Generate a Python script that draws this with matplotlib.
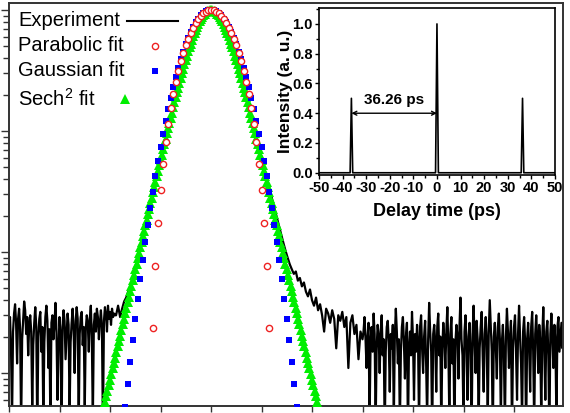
import numpy as np
import matplotlib
matplotlib.use("Agg")
import matplotlib.pyplot as plt
from matplotlib.ticker import MultipleLocator, LogLocator, NullFormatter

plt.rcParams['font.family'] = ['Liberation Sans', 'DejaVu Sans']
plt.rcParams['mathtext.fontset'] = 'custom'
plt.rcParams['mathtext.rm'] = 'Liberation Sans'
plt.rcParams['axes.unicode_minus'] = False

########################
# Data #
########################

# Measured autocorrelation trace in three pieces: (start ps, step ps, values)
# left noise floor, 0.01 ps apart from -2.00 ps
LEFT_X0, LEFT_STEP = -2.0, 0.01
exp_left_noise = [0.0024, 0.0029, 0.0016, 0.0004, 0.0022, 0.0031, 0.0037, 0.0026, 0.0012, 0.0028,
                  0.0034, 0.0023, 0.00035, 0.0019, 0.0027, 0.0039, 0.0033, 0.0021, 0.0029, 0.0014,
                  0.0025, 0.0030, 0.0022, 0.0005, 0.0017, 0.0026, 0.0035, 0.0024, 0.0003, 0.0020,
                  0.0028, 0.0032, 0.0015, 0.0024, 0.0004, 0.0018, 0.0029, 0.0036, 0.0027, 0.0011,
                  0.0023, 0.00035, 0.0026, 0.0030, 0.0019, 0.0025, 0.0038, 0.0022, 0.0006, 0.0016,
                  0.0029, 0.0021, 0.0003, 0.0024, 0.0033, 0.0027, 0.0013, 0.0020, 0.0031, 0.0025,
                  0.00045, 0.0018, 0.0026, 0.0034, 0.0022, 0.0010, 0.0027, 0.0035, 0.0028, 0.00035,
                  0.0021, 0.0029, 0.0032, 0.0017, 0.0024, 0.0005, 0.0023, 0.0030, 0.0026, 0.0015,
                  0.0028, 0.0036, 0.0020, 0.0004, 0.0025, 0.0031, 0.0022, 0.0034, 0.0029, 0.0019,
                  0.0026, 0.0033, 0.0024, 0.00035, 0.0027, 0.0035, 0.0030, 0.0022, 0.0036, 0.0028,
                  0.0032, 0.0025, 0.0034, 0.0029, 0.0031, 0.0030]
# pulse and right shoulder, 0.02 ps apart from -0.94 ps
PULSE_X0, PULSE_STEP = -0.94, 0.02
exp_pulse = [0.0030, 0.0036, 0.0029, 0.0034, 0.0039, 0.0042, 0.0047, 0.0052, 0.0060, 0.0069,
             0.0080, 0.0094, 0.0110, 0.01298, 0.01534, 0.01813, 0.02142, 0.02529, 0.02986, 0.03523,
             0.04156, 0.04899, 0.0577, 0.0679, 0.0799, 0.0938, 0.1100, 0.1289, 0.1507, 0.1758,
             0.2045, 0.2373, 0.2744, 0.3161, 0.3625, 0.4135, 0.4690, 0.5284, 0.5908, 0.6551,
             0.7197, 0.7827, 0.8418, 0.8947, 0.9389, 0.9722, 0.9929, 1.0,
             0.9929, 0.9722, 0.9389, 0.8947, 0.8418, 0.7827, 0.7197, 0.6551, 0.5908, 0.5284,
             0.4690, 0.4135, 0.3625, 0.3161, 0.2744, 0.2373, 0.2045, 0.1758, 0.1507, 0.1289,
             0.1110, 0.0955, 0.0820, 0.0705, 0.0605, 0.0520, 0.0447, 0.0385, 0.0330, 0.0284,
             0.0244, 0.0210, 0.0180, 0.0155, 0.0134, 0.0116, 0.0101, 0.0089, 0.0079, 0.0072,
             0.0066, 0.0069, 0.0058, 0.0061, 0.0052, 0.0056, 0.0047, 0.0043, 0.0049, 0.0040,
             0.0036, 0.0042, 0.0033, 0.0037, 0.0030, 0.0022, 0.0034, 0.0031, 0.0026, 0.0033,
             0.0028, 0.0016, 0.0030, 0.0027, 0.0032, 0.0024, 0.0029, 0.0011, 0.0026, 0.0030,
             0.0021, 0.0025, 0.0013, 0.0022, 0.0019]
# right noise floor, 0.01 ps apart from 1.51 ps
RIGHT_X0, RIGHT_STEP = 1.51, 0.01
exp_right_noise = [0.0022, 0.0029, 0.0019, 0.0011, 0.0020, 0.0026, 0.0004, 0.0018, 0.0024, 0.0015,
                   0.0031, 0.0021, 0.00035, 0.0016, 0.0025, 0.0020, 0.0010, 0.0022, 0.0030, 0.0014,
                   0.0019, 0.0003, 0.0015, 0.0024, 0.0027, 0.0018, 0.0007, 0.0021, 0.0016, 0.0025,
                   0.0004, 0.0020, 0.0034, 0.0022, 0.0012, 0.0019, 0.00035, 0.0015, 0.0024, 0.0029,
                   0.0018, 0.0009, 0.0020, 0.0026, 0.0003, 0.0016, 0.0022, 0.0014, 0.0032, 0.0019,
                   0.0006, 0.0021, 0.0015, 0.0025, 0.0018, 0.00035, 0.0024, 0.0030, 0.0016, 0.0010,
                   0.0020, 0.0027, 0.0012, 0.0004, 0.0019, 0.0038, 0.0022, 0.0015, 0.0003, 0.0021,
                   0.0025, 0.0018, 0.0007, 0.0024, 0.0031, 0.0014, 0.0020, 0.00035, 0.0016, 0.0026,
                   0.0019, 0.0011, 0.0022, 0.0035, 0.0016, 0.0004, 0.0021, 0.0029, 0.0012, 0.0019,
                   0.0003, 0.0018, 0.0025, 0.0020, 0.0009, 0.0024, 0.0042, 0.0019, 0.0014, 0.0004,
                   0.0022, 0.0030, 0.0016, 0.0006, 0.0020, 0.0026, 0.0015, 0.0003, 0.0021, 0.0036,
                   0.0018, 0.0010, 0.0027, 0.0019, 0.00035, 0.0016, 0.0024, 0.0032, 0.0014, 0.0007,
                   0.0021, 0.0029, 0.0018, 0.0004, 0.0022, 0.0040, 0.0025, 0.0015, 0.0003, 0.0020,
                   0.0026, 0.0016, 0.0009, 0.0024, 0.0031, 0.0019, 0.0004, 0.0018, 0.0025, 0.0014,
                   0.00035, 0.0020, 0.0034, 0.0022, 0.0011, 0.0019, 0.0027, 0.0003, 0.0016, 0.0024,
                   0.0030, 0.0015, 0.0006, 0.0021, 0.0036, 0.0020, 0.0012, 0.0004, 0.0022, 0.0029,
                   0.0018, 0.0003, 0.0019, 0.0026, 0.0016, 0.0007, 0.0024, 0.0032, 0.0015, 0.00035,
                   0.0021, 0.0030, 0.0019, 0.0010, 0.0025, 0.0018, 0.0004, 0.0020, 0.0035, 0.0016,
                   0.0006, 0.0022, 0.0027, 0.0014, 0.0003, 0.0021, 0.0031, 0.0019, 0.0011, 0.0025,
                   0.0018, 0.0004, 0.0024, 0.0029, 0.0015, 0.0020, 0.0026, 0.0016, 0.0022]

# Sech^2 fit, one half from 0 ps outwards, 0.0125 ps apart
SECH_STEP = 0.0125
sech_half = [1.0, 0.99724, 0.98901, 0.97549, 0.95697, 0.93385, 0.90659, 0.87572, 0.84181, 0.80545,
             0.76723, 0.72773, 0.68749, 0.64701, 0.60673, 0.56705, 0.52830, 0.49077, 0.45465, 0.42015,
             0.38735, 0.35636, 0.32719, 0.29985, 0.27435, 0.25064, 0.22867, 0.20834, 0.18960, 0.17240,
             0.15659, 0.14211, 0.12884, 0.11676, 0.10573, 0.09569, 0.08656, 0.07826, 0.07070, 0.06387,
             0.05767, 0.05208, 0.04698, 0.04240, 0.03825, 0.03447, 0.03111, 0.02804, 0.02528, 0.02278,
             0.02051, 0.01847, 0.01666, 0.01501, 0.01351, 0.01217, 0.01098, 0.00987, 0.00888, 0.00801,
             0.00721, 0.00650, 0.00582, 0.00527, 0.00475, 0.00427, 0.00384, 0.00345, 0.00311, 0.00280,
             0.00252, 0.00227, 0.00204, 0.00184, 0.00166, 0.00149, 0.00134, 0.00121, 0.00109, 0.000979,
             0.000881, 0.000793, 0.000714, 0.000643, 0.000578, 0.000521, 0.000469]

# Gaussian and parabolic fits, one half each, 0.025 ps apart
FIT_STEP = 0.025
gauss_half = [1.0, 0.99349, 0.97420, 0.94287, 0.90083, 0.84952, 0.79034, 0.72589, 0.65812, 0.58907,
              0.52024, 0.45349, 0.39034, 0.33148, 0.27785, 0.22985, 0.18772, 0.15133, 0.12042, 0.09455,
              0.07329, 0.05606, 0.04232, 0.03154, 0.02320, 0.01684, 0.01207, 0.008538, 0.005962, 0.004108,
              0.002793, 0.001875, 0.001242, 0.000812, 0.000524, 0.000334]
parab_half = [1.0, 0.99232, 0.97056, 0.93662, 0.89238, 0.83968, 0.78032, 0.71604, 0.64849, 0.57923,
              0.50976, 0.44143, 0.37548, 0.31302, 0.25501, 0.20224, 0.15534, 0.11477, 0.08075, 0.05333,
              0.03232, 0.01731, 0.007628, 0.002358, 0.000307]

# Inset: pulse train
inset_delay = [-50, -36.8, -36.26, -35.7, -0.6, 0.0, 0.6, 35.7, 36.26, 36.8, 50]
inset_intensity = [0, 0, 0.5, 0, 0, 1.0, 0, 0, 0.5, 0, 0]
PULSE_SPACING = 36.26
spacing_label = "36.26 ps"

legend_labels = ["Experiment", "Parabolic fit", "Gaussian fit", "Sech$^{2}$ fit"]


def mirrored(half, step):
    y = half[:0:-1] + half
    n = len(half) - 1
    x = step * np.arange(-n, n + 1)
    return x, np.array(y)


def segment_x(x0, step, values):
    return x0 + step * np.arange(len(values))


def main():
    exp_x = np.concatenate([segment_x(LEFT_X0, LEFT_STEP, exp_left_noise),
                            segment_x(PULSE_X0, PULSE_STEP, exp_pulse),
                            segment_x(RIGHT_X0, RIGHT_STEP, exp_right_noise)])
    exp_y = np.array(exp_left_noise + exp_pulse + exp_right_noise)
    sech_x, sech_y = mirrored(sech_half, SECH_STEP)
    gauss_x, gauss_y = mirrored(gauss_half, FIT_STEP)
    parab_x, parab_y = mirrored(parab_half, FIT_STEP)

    fig = plt.figure(figsize=(5.7, 4.13), dpi=100)
    ax = fig.add_axes([0.0158, 0.0170, 0.9719, 0.9758])

    ax.plot(exp_x, exp_y, color='black', lw=1.6, zorder=2)
    ax.plot(sech_x, sech_y, ls='none', marker='^', ms=7, color='#00ee00',
            markeredgewidth=0, zorder=3)
    ax.plot(gauss_x, gauss_y, ls='none', marker='s', ms=4.5, color='#0000ff',
            markeredgewidth=0, zorder=4)
    ax.plot(parab_x, parab_y, ls='none', marker='o', ms=4.5, mfc='white',
            mec='#ee2222', mew=1.0, zorder=5)

    ax.set_yscale('log')
    ax.set_xlim(-2.0, 3.485)
    ax.set_ylim(5.34e-4, 1.143)
    ax.xaxis.set_major_locator(MultipleLocator(0.5))
    ax.xaxis.set_major_formatter(NullFormatter())
    ax.yaxis.set_major_locator(LogLocator(base=10))
    ax.yaxis.set_minor_locator(LogLocator(base=10, subs=np.arange(2, 10)))
    ax.yaxis.set_major_formatter(NullFormatter())
    ax.yaxis.set_minor_formatter(NullFormatter())
    ax.tick_params(which='both', direction='out', top=False, right=False, width=1.0, color='#333333')
    ax.tick_params(axis='y', which='major', length=6)
    ax.tick_params(axis='y', which='minor', length=4)
    ax.tick_params(axis='x', which='major', length=4)
    for sp in ax.spines.values():
        sp.set_linewidth(1.4)
        sp.set_color('#333333')

    # legend, drawn like the Origin one: label first, symbol after
    rows = [0.956, 0.894, 0.832, 0.762]
    for label, yy in zip(legend_labels, rows):
        ax.text(0.0162, yy, label, transform=ax.transAxes, va='center', ha='left', fontsize=14.5)
    ax.plot([0.213, 0.305], [rows[0], rows[0]], transform=ax.transAxes, color='black', lw=1.5)
    ax.plot([0.2635], [rows[1]], transform=ax.transAxes, marker='o', ms=4.5, mfc='white',
            mec='#ee2222', mew=1.0)
    ax.plot([0.2635], [rows[2]], transform=ax.transAxes, marker='s', ms=4.5, color='#0000ff', mew=0)
    ax.plot([0.209], [rows[3]], transform=ax.transAxes, marker='^', ms=7, color='#00ee00', mew=0)

    # inset
    axin = fig.add_axes([0.5596, 0.5763, 0.4140, 0.4043])
    axin.set_facecolor('white')
    axin.plot(inset_delay, inset_intensity, color='black', lw=1.2)
    axin.set_xlim(-50, 50)
    axin.set_ylim(-0.015, 1.107)
    axin.xaxis.set_major_locator(MultipleLocator(10))
    axin.xaxis.set_minor_locator(MultipleLocator(5))
    axin.yaxis.set_major_locator(MultipleLocator(0.2))
    axin.yaxis.set_minor_locator(MultipleLocator(0.1))
    axin.yaxis.set_major_formatter(plt.FormatStrFormatter('%.1f'))
    axin.tick_params(which='both', direction='out', top=False, right=False, width=1.0,
                     labelsize=10.5, pad=1.5)
    axin.tick_params(which='major', length=3)
    axin.tick_params(which='minor', length=2)
    for lab in axin.get_xticklabels() + axin.get_yticklabels():
        lab.set_fontweight('bold')
    for sp in axin.spines.values():
        sp.set_linewidth(1.2)
    axin.set_xlabel("Delay time (ps)", fontsize=13, fontweight='bold')
    axin.set_ylabel("Intensity (a. u.)", fontsize=12.5, fontweight='bold')
    axin.xaxis.set_label_coords(0.5, -0.165)
    axin.yaxis.set_label_coords(-0.11, 0.5)

    axin.annotate('', xy=(0, 0.4), xytext=(-PULSE_SPACING, 0.4),
                  arrowprops=dict(arrowstyle='<->', lw=1.0, color='black',
                                  shrinkA=0, shrinkB=0, mutation_scale=7))
    axin.text(-PULSE_SPACING / 2, 0.49, spacing_label, ha='center', va='center',
              fontsize=11, fontweight='bold')

    fig.savefig("out.png", dpi=100)


if __name__ == "__main__":
    main()
